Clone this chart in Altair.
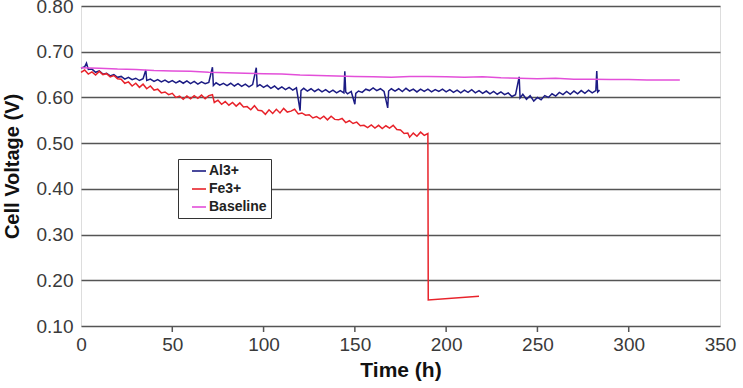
import altair as alt
import pandas as pd

# Al3+ cell voltage (h, V)
al_time = [0, 2, 3, 4, 6, 8, 10, 12, 14, 16, 18, 20, 22, 24, 26, 28, 30, 32, 34, 35.5, 36, 38,
           40, 42, 44, 46, 48, 50, 52, 54, 56, 58, 60, 62, 64, 66, 68, 70, 72, 72.5, 74, 76,
           78, 80, 82, 84, 86, 88, 90, 92, 94, 96, 96.5, 98, 100, 102, 104, 106, 108, 110,
           112, 114, 116, 118, 120, 120.5, 122, 124, 126, 128, 130, 132, 134, 136, 138, 140,
           142, 144, 144.5, 145, 146, 148, 150, 150.5, 152, 154, 156, 158, 160, 162, 164, 166,
           168, 168.5, 170, 172, 174, 176, 178, 180, 182, 184, 186, 188, 190, 192, 194, 196,
           198, 200, 202, 204, 206, 208, 210, 212, 214, 216, 218, 220, 222, 224, 226, 228,
           230, 232, 234, 236, 238, 240, 240.5, 242, 244, 246, 248, 250, 252, 254, 256, 258,
           260, 262, 264, 266, 268, 270, 272, 274, 276, 278, 280, 282, 282.5, 283, 284]
al_volt = [0.664, 0.667, 0.675, 0.661, 0.662, 0.655, 0.658, 0.651, 0.653, 0.647, 0.650, 0.644,
           0.646, 0.640, 0.644, 0.639, 0.642, 0.637, 0.641, 0.660, 0.637, 0.640, 0.635, 0.639,
           0.634, 0.638, 0.633, 0.637, 0.632, 0.636, 0.631, 0.636, 0.630, 0.635, 0.629, 0.634,
           0.630, 0.633, 0.666, 0.626, 0.632, 0.627, 0.631, 0.626, 0.631, 0.625, 0.630, 0.624,
           0.629, 0.623, 0.628, 0.665, 0.624, 0.628, 0.622, 0.627, 0.620, 0.625, 0.618, 0.623,
           0.617, 0.622, 0.616, 0.621, 0.571, 0.615, 0.620, 0.614, 0.619, 0.613, 0.618, 0.612,
           0.617, 0.611, 0.616, 0.610, 0.615, 0.610, 0.657, 0.612, 0.608, 0.613, 0.585, 0.609,
           0.614, 0.611, 0.618, 0.615, 0.621, 0.615, 0.619, 0.613, 0.577, 0.614, 0.619, 0.614,
           0.619, 0.613, 0.620, 0.614, 0.618, 0.612, 0.618, 0.613, 0.618, 0.612, 0.617, 0.613,
           0.618, 0.612, 0.617, 0.611, 0.616, 0.610, 0.616, 0.611, 0.617, 0.610, 0.615, 0.609,
           0.614, 0.608, 0.613, 0.607, 0.612, 0.606, 0.610, 0.602, 0.606, 0.645, 0.599, 0.607,
           0.596, 0.604, 0.592, 0.600, 0.595, 0.604, 0.600, 0.608, 0.603, 0.611, 0.606, 0.613,
           0.607, 0.614, 0.608, 0.615, 0.609, 0.616, 0.610, 0.615, 0.658, 0.612, 0.616]

# Fe3+ cell voltage (h, V)
fe_time = [0, 2, 4, 6, 8, 10, 12, 14, 16, 18, 20, 22, 24, 26, 28, 30, 32, 34, 36, 38, 40, 42,
           44, 46, 48, 50, 52, 54, 56, 58, 60, 62, 64, 66, 68, 70, 72, 73, 75, 77, 79, 81, 83,
           85, 87, 89, 91, 93, 95, 97, 99, 101, 103, 105, 107, 109, 111, 113, 115, 117, 119,
           121, 123, 125, 127, 129, 131, 133, 135, 137, 139, 141, 143, 145, 147, 149, 151, 153,
           155, 157, 159, 161, 163, 165, 167, 169, 171, 173, 175, 177, 179, 180, 182, 184, 186,
           188, 190, 190.2, 218]
fe_volt = [0.655, 0.660, 0.651, 0.656, 0.649, 0.657, 0.650, 0.652, 0.645, 0.648, 0.641, 0.640,
           0.631, 0.634, 0.625, 0.631, 0.622, 0.629, 0.619, 0.625, 0.616, 0.618, 0.610, 0.612,
           0.606, 0.609, 0.600, 0.603, 0.596, 0.603, 0.597, 0.604, 0.598, 0.605, 0.597, 0.604,
           0.606, 0.589, 0.594, 0.585, 0.591, 0.583, 0.589, 0.581, 0.588, 0.579, 0.580, 0.573,
           0.582, 0.572, 0.571, 0.563, 0.573, 0.565, 0.574, 0.566, 0.576, 0.568, 0.570, 0.574,
           0.564, 0.566, 0.561, 0.562, 0.555, 0.558, 0.553, 0.559, 0.551, 0.559, 0.552, 0.551,
           0.554, 0.545, 0.549, 0.543, 0.546, 0.538, 0.539, 0.534, 0.540, 0.533, 0.539, 0.532,
           0.538, 0.533, 0.539, 0.530, 0.529, 0.521, 0.522, 0.513, 0.522, 0.515, 0.524, 0.517,
           0.521, 0.157, 0.165]

# Baseline cell voltage (h, V)
base_time = [0, 10, 20, 30, 40, 50, 60, 70, 80, 90, 100, 110, 120, 130, 140, 150, 160, 170,
             180, 190, 200, 210, 220, 230, 240, 250, 260, 270, 280, 290, 300, 310, 320, 328]
base_volt = [0.665, 0.664, 0.662, 0.661, 0.659, 0.658, 0.657, 0.655, 0.654, 0.653, 0.652,
             0.651, 0.649, 0.648, 0.647, 0.646, 0.645, 0.644, 0.646, 0.646, 0.645, 0.644,
             0.645, 0.643, 0.642, 0.641, 0.642, 0.640, 0.640, 0.639, 0.639, 0.638, 0.638, 0.638]

series_names = ["Al3+", "Fe3+", "Baseline"]
series_colors = ["#1c1c84", "#e8232b", "#e34fd9"]
x_labels = [0, 50, 100, 150, 200, 250, 300, 350]
x_ticks = [50, 100, 150, 200, 250, 300]
y_labels = [0.1, 0.2, 0.3, 0.4, 0.5, 0.6, 0.7, 0.8]

frames = []
for name, t, v in [("Al3+", al_time, al_volt), ("Fe3+", fe_time, fe_volt),
                   ("Baseline", base_time, base_volt)]:
    d = pd.DataFrame({"time": t, "volt": v})
    d["series"] = name
    d["order"] = range(len(d))
    frames.append(d)
data = pd.concat(frames, ignore_index=True)

FONT = "Liberation Sans"

x_scale = alt.Scale(domain=[0, 350], nice=False, zero=False)
y_scale = alt.Scale(domain=[0.10, 0.80], nice=False, zero=False)

lines = alt.Chart(data).mark_line(strokeWidth=1.5).encode(
    x=alt.X("time:Q", scale=x_scale, title="Time (h)",
            axis=alt.Axis(values=x_labels, ticks=False, grid=False, domain=False,
                          labelPadding=9, titlePadding=5, labelFontSize=19,
                          labelColor="#3a3a3a", labelFont=FONT, titleFont=FONT,
                          titleFontSize=21, titleFontWeight="bold", titleColor="#111",
                          labelFlush=False)),
    y=alt.Y("volt:Q", scale=y_scale, title="Cell Voltage (V)",
            axis=alt.Axis(values=y_labels, format=".2f", ticks=False, domain=False,
                          grid=True, gridColor="#555555", gridWidth=1.6, labelPadding=8,
                          titlePadding=14, labelFontSize=19, labelColor="#3a3a3a",
                          labelFont=FONT, titleFont=FONT, titleFontSize=20,
                          titleFontWeight="bold", titleColor="#111")),
    color=alt.Color("series:N",
                    scale=alt.Scale(domain=series_names, range=series_colors),
                    sort=series_names,
                    legend=alt.Legend(title=None, orient="none", legendX=97, legendY=153,
                                      symbolType="stroke", symbolSize=196,
                                      symbolStrokeWidth=1.6, symbolOffset=9,
                                      labelFont=FONT, labelFontSize=14,
                                      labelFontWeight="bold", labelColor="#222",
                                      strokeColor="#333", fillColor="white", padding=4,
                                      rowPadding=3, labelOffset=2)),
    order="order:Q",
)

tick_df = pd.DataFrame({"t": x_ticks})
ticks = alt.Chart(tick_df).mark_rule(color="#555", strokeWidth=1.5).encode(
    x=alt.X("t:Q", scale=x_scale),
    y=alt.value(320),
    y2=alt.value(326),
)

chart = alt.layer(ticks, lines).properties(
    width=639, height=320,
    autosize=alt.AutoSizeParams(type="none"),
    padding={"left": 81, "top": 6, "right": 23, "bottom": 62},
).configure_view(stroke="#444", strokeWidth=1.6).configure(background="white")

chart.save("out.html", embed_options={"renderer": "svg", "actions": False})
